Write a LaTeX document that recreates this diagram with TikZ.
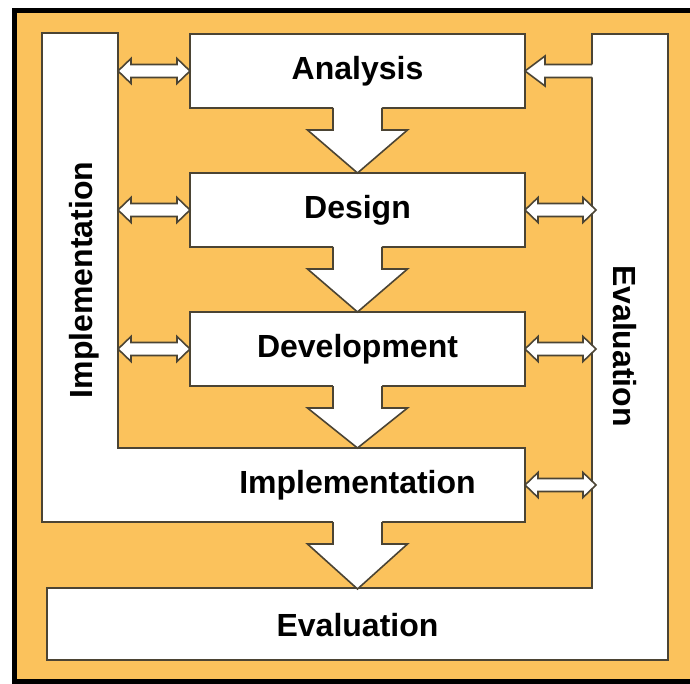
\documentclass[tikz,border=0pt]{standalone}
\usepackage{fontspec}
\setmainfont{Liberation Sans}
\usetikzlibrary{calc}
\definecolor{bgor}{HTML}{FBC25C}
\definecolor{edgec}{HTML}{4B4434}
\tikzset{
  line/.style={draw=edgec, line width=2pt, line join=miter},
  lbl/.style={font=\fontsize{32}{35}\selectfont\bfseries, inner sep=0pt, text=black},
  box/.style={line, fill=white, minimum width=335pt, minimum height=74pt, inner sep=0pt, outer sep=0pt, lbl},
  ghost/.style={minimum width=335pt, minimum height=74pt, inner sep=0pt, outer sep=0pt, lbl},
  arr/.style={draw=edgec, line width=1.6pt, line join=miter},
}
\newcommand\DnArr[2]{%
  \fill[white] let \p1=(#1.south), \p2=(#2.north) in
    (\x1-24.5pt,\y1+1.6pt) -- (\x1-24.5pt,\y1-22pt) -- (\x1-50pt,\y1-22pt) -- (\x2,\y2)
    -- (\x1+50pt,\y1-22pt) -- (\x1+24.5pt,\y1-22pt) -- (\x1+24.5pt,\y1+1.6pt) -- cycle;
  \draw[arr] let \p1=(#1.south), \p2=(#2.north) in
    (\x1-24.5pt,\y1) -- (\x1-24.5pt,\y1-22pt) -- (\x1-50pt,\y1-22pt) -- (\x2,\y2)
    -- (\x1+50pt,\y1-22pt) -- (\x1+24.5pt,\y1-22pt) -- (\x1+24.5pt,\y1);}
\newcommand\DblArr[2]{%
  \draw[arr, fill=white] let \p1=#1, \p2=#2 in
    (\x1,\y1) -- (\x1+13pt,\y1+12.5pt) -- (\x1+13pt,\y1+6.5pt) -- (\x2-13pt,\y1+6.5pt)
    -- (\x2-13pt,\y1+12.5pt) -- (\x2,\y1) -- (\x2-13pt,\y1-12.5pt) -- (\x2-13pt,\y1-6.5pt)
    -- (\x1+13pt,\y1-6.5pt) -- (\x1+13pt,\y1-12.5pt) -- cycle;}
\newcommand\LArr[2]{%
  \fill[white] let \p1=#1, \p2=#2 in
    (\x1+1.6pt,\y1+6.5pt) -- (\x2+20pt,\y1+6.5pt) -- (\x2+20pt,\y1+15pt) -- (\x2,\y2)
    -- (\x2+20pt,\y1-15pt) -- (\x2+20pt,\y1-6.5pt) -- (\x1+1.6pt,\y1-6.5pt) -- cycle;
  \draw[arr] let \p1=#1, \p2=#2 in
    (\x1,\y1+6.5pt) -- (\x2+20pt,\y1+6.5pt) -- (\x2+20pt,\y1+15pt) -- (\x2,\y2)
    -- (\x2+20pt,\y1-15pt) -- (\x2+20pt,\y1-6.5pt) -- (\x1,\y1-6.5pt);}
\begin{document}
\begin{tikzpicture}[x=1pt,y=-1pt]
\useasboundingbox (0,0) rectangle (690,684);
\fill[bgor] (12,8) rectangle (690,684);
\fill[black] (12,8) rectangle (17,684);
\fill[black] (12,8) rectangle (690,13);
\fill[black] (12,679) rectangle (690,684);
% L-shaped bands
\draw[line, fill=white] (42,33) -- (118,33) -- (118,448) -- (525,448) -- (525,522) -- (42,522) -- cycle;
\draw[line, fill=white] (592,34) -- (668,34) -- (668,660) -- (47,660) -- (47,588) -- (592,588) -- cycle;
\coordinate (iE) at (118,0);
\coordinate (eW) at (592,0);
% boxes
\node[box] (ana) at (357.5,71) {Analysis};
\node[box] (des) at (357.5,210) {Design};
\node[box] (dev) at (357.5,349) {Development};
\node[ghost] (imp) at (357.5,485) {Implementation};
\node[ghost, minimum width=621pt, minimum height=72pt] (eva) at (357.5,625) {Evaluation};
\node[lbl, rotate=90] (implTxt) at (84,280) {Implementation};
\node[lbl, rotate=-90] (evalTxt) at (625,346) {Evaluation};
% down arrows
\DnArr{ana}{des}
\DnArr{des}{dev}
\DnArr{dev}{imp}
\DnArr{imp}{eva}
% side arrows
\DblArr{(iE |- ana.west)}{(ana.west)}
\DblArr{(iE |- des.west)}{(des.west)}
\DblArr{(iE |- dev.west)}{(dev.west)}
\LArr{(eW |- ana.east)}{(ana.east)}
\DblArr{(des.east)}{($(eW |- des.east)+(4,0)$)}
\DblArr{(dev.east)}{($(eW |- dev.east)+(4,0)$)}
\DblArr{(imp.east)}{($(eW |- imp.east)+(4,0)$)}
\end{tikzpicture}
\end{document}
